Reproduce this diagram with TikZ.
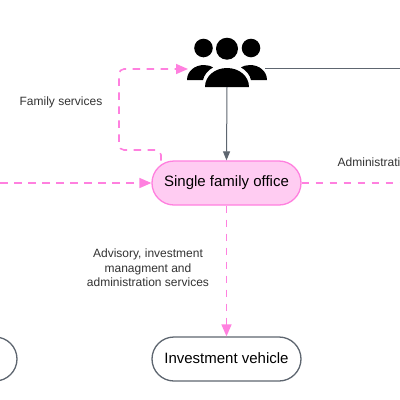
\documentclass[tikz,border=0pt]{standalone}
\usepackage{fontspec}
\setmainfont{Liberation Sans}
\usetikzlibrary{arrows.meta}
\definecolor{pinkline}{HTML}{FF80DF}
\definecolor{pinkfill}{HTML}{FFCCF2}
\definecolor{darkline}{HTML}{5E6670}
\begin{document}
\begin{tikzpicture}[x=1pt,y=-1pt,
	every node/.style={font=\fontsize{12}{14.5}\selectfont, text=black!80},
	office/.style={draw, rounded corners=22pt, minimum width=149pt, minimum height=44pt, line width=1.3pt, inner sep=0pt, anchor=center, font=\fontsize{15}{18}\selectfont, text=black},
	flow/.style={draw=pinkline, line width=1.6pt, dash pattern=on 7.5pt off 6.5pt, -{Triangle[length=12pt,width=10pt]}, rounded corners=5pt},
	plain/.style={draw=darkline, line width=1pt}]
	\useasboundingbox (0,0) rectangle (400,400);
	\clip (0,0) rectangle (400,400);
	\fill[white] (0,0) rectangle (400,400);
	\node (people) [minimum width=80pt, minimum height=49pt, inner sep=0pt] at (227,62.5) {};
	\fill (203.5,48) circle (9.3);
	\fill (227,48.7) circle (11);
	\fill (251,48) circle (9.3);
	\fill (187,80) .. controls (187,71) and (195,65) .. (204,65) .. controls (207,65) and (211,66) .. (213,67.5) .. controls (208,70) and (204,75) .. (203,80) -- cycle;
	\fill (267,80) .. controls (267,71) and (259,65) .. (250,65) .. controls (247,65) and (243,66) .. (241,67.5) .. controls (246,70) and (250,75) .. (251,80) -- cycle;
	\fill (205,87) .. controls (205,76) and (215,68) .. (227,68) .. controls (239,68) and (249,76) .. (249,87) -- cycle;
	\coordinate (people west) at (188,69);
	\coordinate (people east) at (265,68);
	\coordinate (right top) at (400,68);
	\coordinate (left end) at (0,183);
	\coordinate (right end) at (400,183);
	\node (sfo) [office, draw=pinkline, fill=pinkfill] at (226.5,183) {Single family office};
	\node (vehicle) [office, draw=darkline, fill=white] at (226.5,359) {\raisebox{1.5pt}{Investment vehicle}};
	\node (other) [office, draw=darkline, fill=white] at (-57.5,359) {};
	\draw[plain, -{Triangle[length=9pt,width=7pt]}] (people.south) -- (sfo.north);
	\draw[plain] (people east) -- (right top);
	\draw[flow] (161,160.5) -- (161,150) -- (119,150) -- (119,69) -- (people west);
	\draw[flow] (left end) -- (sfo.west);
	\draw[flow, -] (sfo.east) -- (right end);
	\draw[flow] (sfo.south) -- (vehicle.north);
	\node (family) at (61,102) {Family services};
	\node (admin) [anchor=west, inner sep=0pt] at (337.5,162) {Administrati};
	\node (advisory) [align=center] at (148,268) {Advisory, investment\\managment and\\administration services};
\end{tikzpicture}
\end{document}
